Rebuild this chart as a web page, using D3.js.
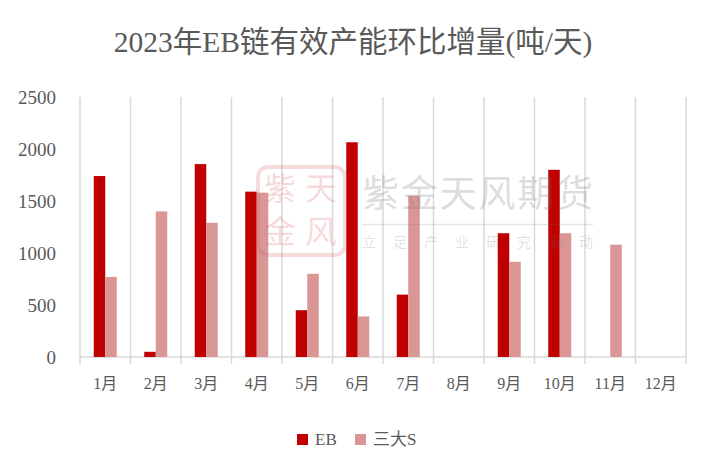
<!DOCTYPE html>
<html><head><meta charset="utf-8">
<script src="https://cdn.jsdelivr.net/npm/d3@7"></script>
<style>body{margin:0;background:#fff;}svg{display:block;}</style>
</head><body><svg id="c" width="709" height="472"></svg>
<script>
const title = "2023年EB链有效产能环比增量(吨/天)";
const months = ["1月","2月","3月","4月","5月","6月","7月","8月","9月","10月","11月","12月"];
const seriesNames = ["EB","三大S"];
const ebValues = [1740, 50, 1855, 1590, 450, 2065, 600, null, 1190, 1800, null, null];
const sValues = [770, 1400, 1290, 1580, 800, 390, 1550, null, 915, 1190, 1080, null];
const yTicks = [0, 500, 1000, 1500, 2000, 2500];
const colors = ["#C00000", "#D99694"];

const svg = d3.select("#c");
const W = 709, H = 472;
const m = {l: 80, r: 23, t: 97, b: 115};
const x = d3.scaleBand().domain(months).range([m.l, W - m.r]).padding(0);
const y = d3.scaleLinear().domain([0, 2500]).range([H - m.b, m.t]);
const grey = "#d9d9d9";
const serif = "'Liberation Serif','Times New Roman',serif";
const cjk = "'Liberation Serif','Noto Sans CJK SC',serif";

svg.append("rect").attr("width", W).attr("height", H).attr("fill", "#fff");

// title
svg.append("text").attr("x", 353).attr("y", 52).attr("text-anchor", "middle")
  .attr("font-family", cjk).attr("font-size", 29.5).attr("fill", "#595959").text(title);

// vertical gridlines at category boundaries
const bounds = months.map(d => x(d)).concat([x(months[months.length-1]) + x.bandwidth()]);
svg.append("g").selectAll("line").data(bounds).join("line")
  .attr("x1", d => d).attr("x2", d => d).attr("y1", y(2500)).attr("y2", y(0) + 7)
  .attr("stroke", grey).attr("stroke-width", 1.5);
// axis baseline
svg.append("line").attr("x1", m.l).attr("x2", W - m.r).attr("y1", y(0)).attr("y2", y(0))
  .attr("stroke", grey).attr("stroke-width", 1.5);

// y labels
const yAxis = d3.axisLeft(y).tickValues(yTicks).tickFormat(d3.format("d")).tickSize(0).tickPadding(0);
const ya = svg.append("g").attr("transform", `translate(${56},0)`).call(yAxis);
ya.select(".domain").remove();
ya.selectAll("text").attr("font-family", serif).attr("font-size", 19).attr("fill", "#595959");

// x labels
const xAxis = d3.axisBottom(x).tickSize(0).tickPadding(0);
const xa = svg.append("g").attr("transform", `translate(0,${y(0) + 26})`).call(xAxis);
xa.select(".domain").remove();
xa.selectAll("text").attr("font-family", cjk).attr("font-size", 16).attr("fill", "#595959").attr("dy", "0.35em");

// bars
const bw = 11.5;
const data = months.map((mo, i) => ({mo, v: [ebValues[i], sValues[i]]}));
const gBars = svg.append("g");
[0, 1].forEach(si => {
  gBars.selectAll(".b" + si).data(data.filter(d => d.v[si] != null)).join("rect")
    .attr("x", d => x(d.mo) + x.bandwidth() / 2 - bw + si * bw)
    .attr("y", d => y(d.v[si]))
    .attr("width", bw)
    .attr("height", d => y(0) - y(d.v[si]))
    .attr("fill", colors[si]);
});

// legend
const lg = svg.append("g");
const legendX = [297, 355];
seriesNames.forEach((n, i) => {
  lg.append("rect").attr("x", legendX[i]).attr("y", 434).attr("width", 11).attr("height", 11).attr("fill", colors[i]);
  lg.append("text").attr("x", legendX[i] + 18).attr("y", 445).attr("font-family", cjk).attr("font-size", 17)
    .attr("fill", "#595959").text(n);
});

// watermark
const wm = svg.append("g").attr("pointer-events", "none");
wm.append("rect").attr("x", 258).attr("y", 167).attr("width", 87).attr("height", 88).attr("rx", 10)
  .attr("fill", "none").attr("stroke", "rgba(215,90,90,0.22)").attr("stroke-width", 4);
[["紫", 264, 200], ["天", 305, 200], ["金", 264, 243], ["风", 305, 243]].forEach(([t, tx, ty]) => {
  wm.append("text").attr("x", tx).attr("y", ty).attr("font-family", "'Noto Sans CJK SC'").attr("font-size", 32)
    .attr("fill", "rgba(215,90,90,0.22)").text(t);
});
wm.append("text").attr("x", 362).attr("y", 207).attr("font-family", "'Noto Sans CJK SC'").attr("font-size", 37)
  .attr("textLength", 231).attr("lengthAdjust", "spacing").attr("fill", "rgba(120,120,120,0.25)").text("紫金天风期货");
wm.append("line").attr("x1", 362).attr("x2", 593).attr("y1", 224.5).attr("y2", 224.5)
  .attr("stroke", "rgba(120,120,120,0.2)").attr("stroke-width", 1.5);
wm.append("text").attr("x", 362).attr("y", 247).attr("font-family", "'Noto Sans CJK SC'").attr("font-size", 14)
  .attr("textLength", 231).attr("lengthAdjust", "spacing").attr("fill", "rgba(120,120,120,0.22)").text("立足产业研究驱动");
</script></body></html>
